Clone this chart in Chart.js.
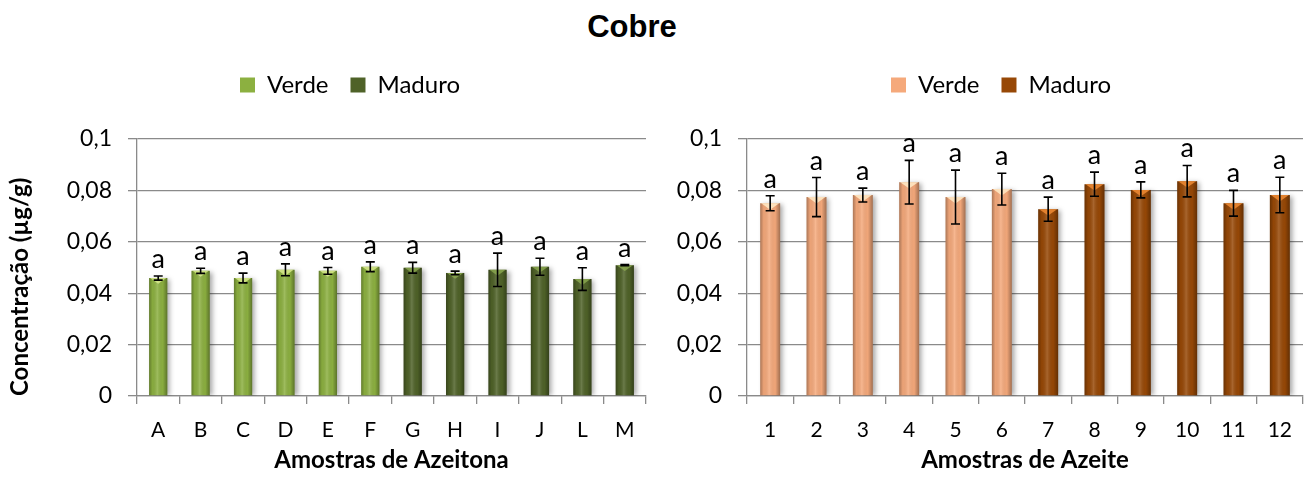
<!DOCTYPE html>
<html>
<head>
<meta charset="utf-8">
<script src="https://cdn.jsdelivr.net/npm/chart.js@4.4.1/dist/chart.umd.min.js"></script>
<style>
  body { margin: 0; background: #fff; width: 1304px; height: 481px; overflow: hidden; position: relative; }
  #titulo { position: absolute; left: 0; top: 11px; width: 1264px; text-align: center;
            font: bold 31px "Liberation Sans", Arial, sans-serif; line-height: 31px; color: #000; }
  .caixa { position: absolute; top: 45px; }
  #caixaAzeitona { left: 0; }
  #caixaAzeite { left: 668px; }
</style>
</head>
<body>
<div id="titulo">Cobre</div>
<div class="caixa" id="caixaAzeitona"><canvas id="graficoAzeitona" width="700" height="436"></canvas></div>
<div class="caixa" id="caixaAzeite"><canvas id="graficoAzeite" width="666" height="436"></canvas></div>
<script>
// Azeitona (olives)
const categoriasAzeitona = ["A", "B", "C", "D", "E", "F", "G", "H", "I", "J", "L", "M"];
const mediasAzeitona = [0.0459, 0.0487, 0.0459, 0.0491, 0.0487, 0.0503, 0.0499, 0.0479, 0.0491, 0.0503, 0.0455, 0.0509];
const desviosAzeitona = [0.0008, 0.0010, 0.0019, 0.0023, 0.0013, 0.0019, 0.0021, 0.0007, 0.0065, 0.0033, 0.0044, 0.0002];
const estadosAzeitona = ["Verde", "Verde", "Verde", "Verde", "Verde", "Verde", "Maduro", "Maduro", "Maduro", "Maduro", "Maduro", "Maduro"];
const letrasAzeitona = ["a", "a", "a", "a", "a", "a", "a", "a", "a", "a", "a", "a"];

// Azeite (olive oil)
const categoriasAzeite = ["1", "2", "3", "4", "5", "6", "7", "8", "9", "10", "11", "12"];
const mediasAzeite = [0.0750, 0.0774, 0.0782, 0.0832, 0.0774, 0.0805, 0.0727, 0.0824, 0.0802, 0.0836, 0.0750, 0.0782];
const desviosAzeite = [0.0029, 0.0076, 0.0027, 0.0085, 0.0105, 0.0062, 0.0047, 0.0047, 0.0031, 0.0061, 0.0050, 0.0069];
const estadosAzeite = ["Verde", "Verde", "Verde", "Verde", "Verde", "Verde", "Maduro", "Maduro", "Maduro", "Maduro", "Maduro", "Maduro"];
const letrasAzeite = ["a", "a", "a", "a", "a", "a", "a", "a", "a", "a", "a", "a"];

const ticksY = [0, 0.02, 0.04, 0.06, 0.08, 0.1];

Chart.defaults.font.family = "Lato";
Chart.defaults.color = "#000";

const cinza = "#8a8a8a";

function serie(medias, estados, estado) {
  return medias.map((v, i) => (estados[i] === estado ? v : null));
}

// extra space under the legend
const espacoLegenda = {
  id: "espacoLegenda",
  beforeLayout(chart) {
    const lg = chart.legend;
    if (lg && !lg._patched) {
      const fit = lg.fit;
      lg.fit = function () { fit.call(this); this.height += 32; };
      lg._patched = true;
    }
  }
};

// bevel shading, error bars and the letters
const barrasErro = {
  id: "erro",
  beforeDatasetsDraw(chart) {
    const c = chart.ctx;
    c.save();
    c.shadowColor = "rgba(0,0,0,0.35)";
    c.shadowBlur = 5;
    c.shadowOffsetX = 3;
    c.shadowOffsetY = 1;
  },
  afterDatasetsDraw(chart, args, opts) {
    const c = chart.ctx;
    c.restore();
    chart.data.datasets.forEach((ds, d) => {
      chart.getDatasetMeta(d).data.forEach((bar, i) => {
        if (ds.data[i] == null) return;
        const w = bar.width, l = bar.x - w / 2;
        const g = c.createLinearGradient(l, 0, l + w, 0);
        g.addColorStop(0, "rgba(0,0,0,0.30)");
        g.addColorStop(0.18, "rgba(0,0,0,0.04)");
        g.addColorStop(0.45, "rgba(255,255,255,0.16)");
        g.addColorStop(0.75, "rgba(0,0,0,0.02)");
        g.addColorStop(1, "rgba(0,0,0,0.34)");
        c.fillStyle = g;
        c.fillRect(l, bar.y, w, bar.base - bar.y);
        c.fillStyle = ds.topoCor;
        c.beginPath();
        c.moveTo(l + 1, bar.y);
        c.lineTo(l + w - 1, bar.y);
        c.lineTo(bar.x, bar.y + w * 0.32);
        c.closePath();
        c.fill();
      });
    });
    const sx = chart.scales.x, sy = chart.scales.y;
    c.save();
    c.strokeStyle = "#000";
    c.lineWidth = 1.6;
    c.fillStyle = "#000";
    c.font = "27px Lato";
    c.textAlign = "center";
    c.textBaseline = "alphabetic";
    opts.medias.forEach((m, i) => {
      const x = sx.getPixelForValue(i);
      const yt = sy.getPixelForValue(m + opts.desvios[i]);
      const yb = sy.getPixelForValue(m - opts.desvios[i]);
      c.beginPath();
      c.moveTo(x, yt); c.lineTo(x, yb);
      c.moveTo(x - 4.5, yt); c.lineTo(x + 4.5, yt);
      c.moveTo(x - 4.5, yb); c.lineTo(x + 4.5, yb);
      c.stroke();
      c.fillText(opts.letras[i], x, yt - 8);
    });
    c.restore();
  }
};

function grafico(id, d) {
  const escalas = {
    x: {
      grid: { offset: true, drawOnChartArea: false, drawTicks: true, tickLength: 8, color: cinza, lineWidth: 1.3 },
      border: { color: cinza, width: 1.3 },
      ticks: { font: { size: 21 }, padding: 14, maxRotation: 0 },
      title: { display: true, text: d.tituloX, font: { size: 24, weight: "bold" }, padding: { top: 0, bottom: 6 } },
      afterFit: (s) => { s.height = 85; }
    },
    y: {
      min: 0,
      max: 0.1,
      afterBuildTicks: (s) => { s.ticks = ticksY.map((v) => ({ value: v })); },
      grid: { color: cinza, lineWidth: 1.3, tickLength: 9 },
      border: { color: cinza, width: 1.3 },
      ticks: {
        font: { size: 23 },
        padding: 16,
        callback: (v) => (v === 0 ? "0" : String(+v.toFixed(2)).replace(".", ","))
      },
      title: { display: !!d.tituloY, text: d.tituloY, align: "start", font: { size: 24, weight: "bold" }, padding: { top: 6, bottom: 0 } },
      afterFit: (s) => { s.width = d.larguraY; }
    },
    folga: {
      position: "right",
      display: true,
      grid: { display: false },
      border: { display: false },
      ticks: { display: false },
      afterFit: (s) => { s.width = d.folgaDireita; }
    }
  };
  return new Chart(document.getElementById(id), {
    type: "bar",
    plugins: [espacoLegenda, barrasErro],
    data: {
      labels: d.categorias,
      datasets: [
        {
          label: "Verde",
          data: serie(d.medias, d.estados, "Verde"),
          backgroundColor: d.cores[0],
          topoCor: d.topos[0],
          borderWidth: 0,
          grouped: false,
          barPercentage: 0.43,
          categoryPercentage: 1
        },
        {
          label: "Maduro",
          data: serie(d.medias, d.estados, "Maduro"),
          backgroundColor: d.cores[1],
          topoCor: d.topos[1],
          borderWidth: 0,
          grouped: false,
          barPercentage: 0.43,
          categoryPercentage: 1
        }
      ]
    },
    options: {
      responsive: false,
      animation: false,
      layout: { padding: { top: 6, left: 0, right: 0, bottom: 0 } },
      scales: escalas,
      plugins: {
        tooltip: { enabled: false },
        legend: {
          labels: { font: { size: 24 }, boxWidth: 15, boxHeight: 15, padding: 22 }
        },
        erro: { medias: d.medias, desvios: d.desvios, letras: d.letras }
      }
    }
  });
}

grafico("graficoAzeitona", {
  categorias: categoriasAzeitona,
  medias: mediasAzeitona,
  desvios: desviosAzeitona,
  estados: estadosAzeitona,
  letras: letrasAzeitona,
  cores: ["#8cb040", "#4f6228"],
  topos: ["rgba(225,240,150,0.75)", "rgba(140,170,80,0.8)"],
  tituloX: "Amostras de Azeitona",
  tituloY: "Concentração (µg/g)",
  larguraY: 137,
  folgaDireita: 54
});

grafico("graficoAzeite", {
  categorias: categoriasAzeite,
  medias: mediasAzeite,
  desvios: desviosAzeite,
  estados: estadosAzeite,
  letras: letrasAzeite,
  cores: ["#f5a97b", "#974806"],
  topos: ["rgba(255,235,200,0.85)", "rgba(235,135,50,0.9)"],
  tituloX: "Amostras de Azeite",
  tituloY: "",
  larguraY: 79,
  folgaDireita: 31
});
</script>
</body>
</html>
